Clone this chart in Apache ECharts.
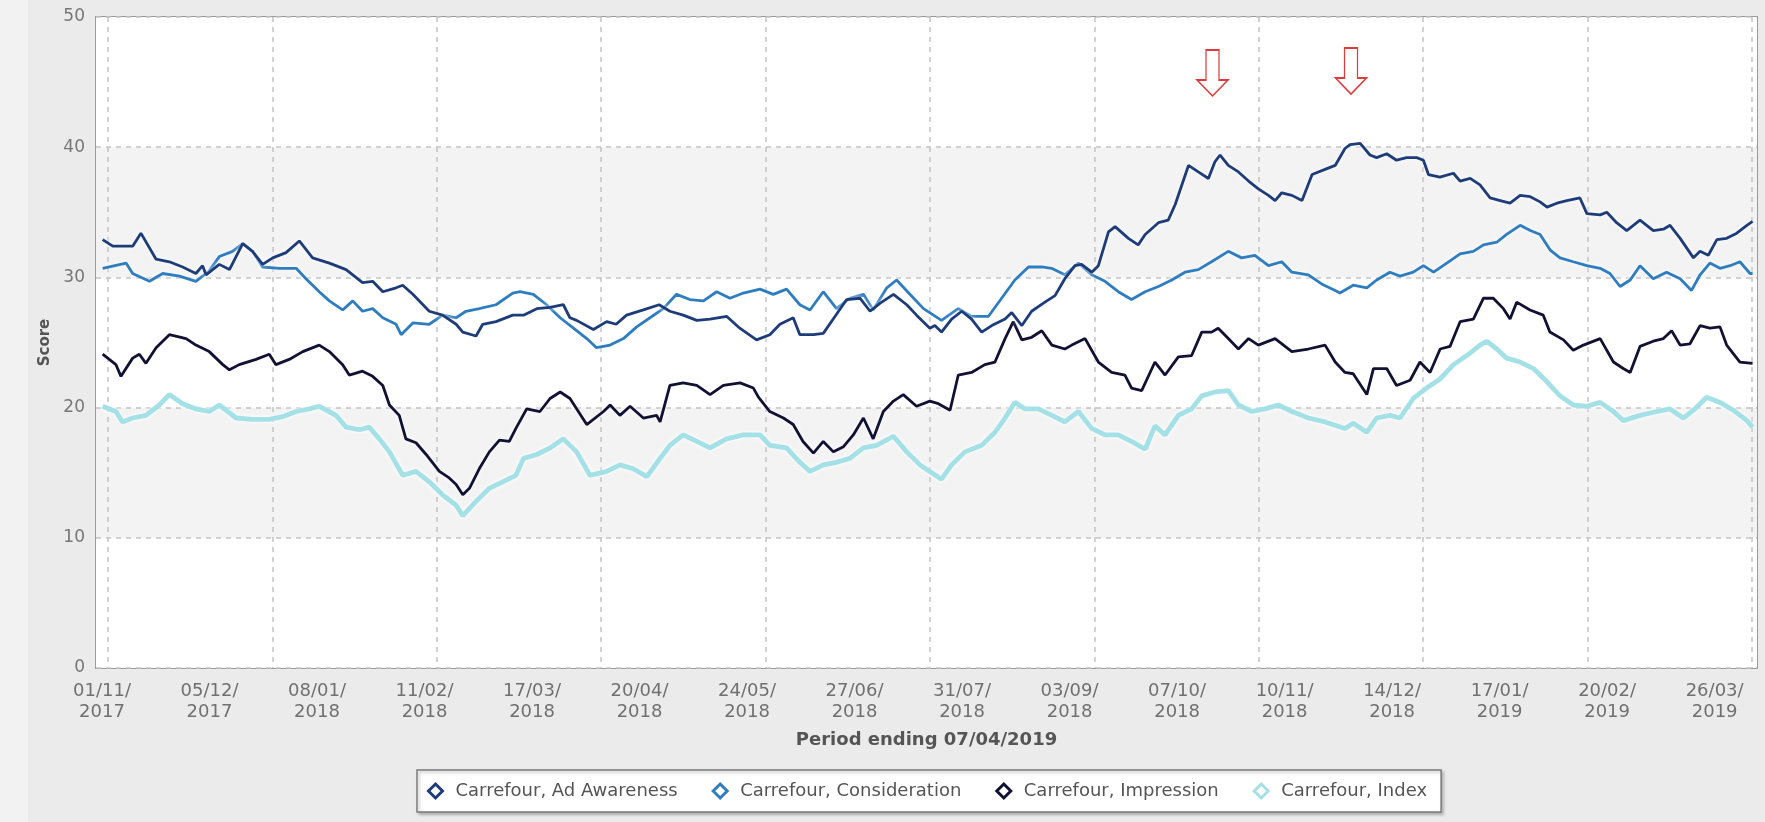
<!DOCTYPE html>
<html><head><meta charset="utf-8">
<script src="https://cdn.jsdelivr.net/npm/echarts@6/dist/echarts.min.js"></script>
<style>html,body{margin:0;padding:0;background:#ebebeb;} #c{width:1765px;height:822px;}</style>
</head><body><div id="c"></div><script>
// x values are day offsets from 01/11/2017 (period ending 07/04/2019 = day 522)
const labelDays = [0,34,68,102,136,170,204,238,272,306,340,374,408,442,476,510];
const seriesNames = ['Carrefour, Ad Awareness','Carrefour, Consideration','Carrefour, Impression','Carrefour, Index'];

const adDays = [0.2,3.4,9.7,12.3,17.1,21.3,25.5,29.7,31.8,32.9,37.1,40.3,44.5,47.6,50.8,54.0,58.2,62.4,66.6,71.9,77.2,82.4,85.6,88.8,93.0,95.1,98.3,103.5,107.7,112.0,114.1,118.3,120.4,124.6,129.9,
  133.3,137.5,141.7,145.9,148.0,150.1,155.4,159.6,162.6,165.9,171.2,176.2,179.6,183.8,188.1,192.3,197.6,201.7,207.0,211.2,214.4,218.6,220.7,225.0,228.1,231.8,235.5,239.7,242.9,246.0,250.3,254.5,257.6,261.8,
  263.4,265.5,268.7,271.9,275.0,278.2,281.4,285.6,287.7,290.9,294.0,298.2,301.4,304.5,307.7,309.8,313.0,315.1,318.3,320.4,324.6,327.7,329.9,334.1,337.2,339.4,341.5,343.6,346.7,349.9,352.0,353.6,356.2,359.4,362.6,365.7,368.9,371.0,373.1,376.3,379.5,382.7,386.8,390.0,393.1,
  394.7,397.9,401.0,403.1,406.3,409.4,412.6,415.8,417.9,419.5,423.1,427.4,429.5,432.7,435.8,439.0,442.2,445.3,448.5,451.7,454.8,457.0,460.1,463.3,467.4,469.6,473.8,475.9,479.0,482.2,486.4,490.6,493.8,495.9,499.1,503.3,505.4,508.0,510.7,513.8,517.0,520.2,522];
const adAwareness = [32.9,32.4,32.4,33.4,31.4,31.2,30.8,30.3,30.9,30.2,31.0,30.6,32.6,32.0,31.0,31.5,31.9,32.8,31.5,31.1,30.6,29.6,29.7,28.9,29.2,29.4,28.7,27.4,27.1,26.4,25.8,25.5,26.4,26.6,27.1,
  27.1,27.6,27.7,27.9,26.9,26.7,26.0,26.6,26.4,27.1,27.5,27.9,27.4,27.1,26.7,26.8,27.0,26.1,25.2,25.6,26.4,26.9,25.6,25.6,25.7,27.0,28.3,28.4,27.4,28.0,28.7,27.9,27.1,26.1,
  26.3,25.8,26.8,27.4,26.8,25.8,26.3,26.8,27.3,26.3,27.4,28.1,28.6,29.9,30.9,31.0,30.4,30.9,33.5,33.9,33.0,32.5,33.3,34.2,34.4,35.6,37.1,38.6,38.1,37.6,38.9,39.4,38.6,38.1,37.4,36.8,36.3,35.9,36.5,36.3,35.9,37.9,38.3,38.6,39.9,
  40.2,40.3,39.4,39.2,39.5,39.0,39.2,39.2,39.0,37.9,37.7,38.0,37.4,37.6,37.1,36.1,35.9,35.7,36.3,36.2,35.8,35.4,35.7,35.9,36.1,34.9,34.8,35.0,34.2,33.6,34.4,33.6,33.7,34.0,33.0,31.5,32.0,31.7,32.9,33.0,33.4,34.0,34.3];

const consDays = [0.2,7.6,9.7,15.0,19.2,24.5,29.7,33.9,37.1,41.3,44.5,47.6,50.8,56.1,61.4,64.5,68.7,71.9,76.1,79.3,82.4,85.6,88.8,93.0,94.6,98.3,103.5,107.7,112.0,115.1,119.3,124.6,129.9,
  132.2,136.4,140.6,144.9,149.1,153.3,156.4,160.7,164.9,169.1,173.3,177.5,181.7,185.9,190.2,194.4,198.6,202.8,208.1,212.3,216.5,220.7,223.9,228.1,232.3,236.5,240.8,243.9,248.2,251.3,255.5,259.8,
  265.5,270.8,275.0,280.3,284.5,288.7,293.0,297.2,300.3,304.5,308.8,313.0,317.2,321.4,325.6,329.9,334.1,338.3,342.5,346.7,350.9,356.2,360.4,364.6,368.9,373.1,376.3,381.5,385.7,390.0,
  391.5,395.7,400.0,403.1,407.3,410.5,414.7,417.9,421.1,425.3,429.5,433.7,436.9,441.1,444.2,448.5,451.7,454.8,458.0,461.1,465.3,469.6,473.8,476.9,480.1,483.3,486.4,490.6,494.8,499.1,502.7,505.4,508.5,511.7,514.9,518.0,521.2,522];
const consideration = [30.7,31.1,30.3,29.7,30.3,30.1,29.7,30.5,31.6,32.0,32.6,32.0,30.8,30.7,30.7,29.9,28.9,28.2,27.5,28.2,27.4,27.6,26.9,26.4,25.6,26.5,26.4,27.1,26.9,27.4,27.6,27.9,28.8,
  28.9,28.7,27.9,26.9,26.1,25.3,24.6,24.8,25.3,26.2,26.9,27.6,28.7,28.3,28.2,28.9,28.4,28.8,29.1,28.7,29.1,27.9,27.5,28.9,27.6,28.4,28.7,27.5,29.2,29.8,28.7,27.6,
  26.7,27.6,27.0,27.0,28.4,29.8,30.8,30.8,30.7,30.2,31.1,30.2,29.7,28.9,28.3,28.9,29.3,29.8,30.4,30.6,31.2,32.0,31.5,31.7,30.9,31.2,30.4,30.2,29.5,29.0,
  28.8,29.4,29.2,29.8,30.4,30.1,30.4,30.9,30.4,31.1,31.8,32.0,32.5,32.7,33.3,34.0,33.6,33.3,32.1,31.5,31.2,30.9,30.7,30.3,29.3,29.8,30.9,29.9,30.4,29.9,29.0,30.2,31.1,30.7,30.9,31.2,30.3,30.3];

const impDays = [0.2,4.4,6.0,9.7,11.8,13.9,17.1,21.3,26.6,29.7,33.9,38.2,40.3,43.4,48.7,52.9,55.0,59.2,63.5,68.7,71.9,76.1,78.2,82.4,85.6,88.8,90.9,94.0,96.1,99.3,102.5,106.7,109.8,112.0,114.1,116.2,119.3,122.5,125.7,128.8,130.9,
  134.3,138.5,141.7,144.9,148.0,153.3,158.6,160.7,163.8,167.0,171.2,175.4,176.5,179.6,183.8,188.1,192.3,196.5,201.8,206.0,207.6,211.2,215.5,218.6,221.7,225.0,228.1,231.3,234.5,237.6,240.8,243.9,247.1,250.3,253.4,257.6,261.8,
  264.5,268.2,270.8,275.0,279.2,282.4,285.6,288.2,290.9,294.0,297.2,300.4,304.5,306.7,310.9,315.1,319.3,323.5,325.6,328.8,333.0,336.2,340.4,344.6,347.8,350.9,353.0,356.2,359.4,362.6,365.7,371.0,376.3,381.5,386.8,390.0,393.1,
  395.7,400.0,402.1,406.3,409.4,413.7,416.8,420.0,423.2,426.3,429.5,433.7,436.9,440.0,443.2,445.3,447.4,451.6,455.8,457.9,462.2,465.3,468.5,473.8,478.0,481.1,483.3,486.4,490.6,493.8,496.4,499.1,502.2,505.4,508.5,511.7,513.8,518.0,522];
const impression = [24.1,23.3,22.4,23.8,24.1,23.4,24.6,25.6,25.3,24.8,24.3,23.3,22.9,23.3,23.7,24.1,23.3,23.7,24.3,24.8,24.3,23.3,22.5,22.8,22.4,21.7,20.2,19.4,17.6,17.3,16.4,15.1,14.6,14.1,13.3,13.8,15.3,16.6,17.5,17.4,18.4,
  19.9,19.7,20.7,21.2,20.7,18.7,19.7,20.2,19.4,20.1,19.2,19.4,18.9,21.7,21.9,21.7,21.0,21.7,21.9,21.5,20.8,19.7,19.2,18.7,17.4,16.5,17.4,16.6,17.0,17.9,19.2,17.6,19.7,20.5,21.0,20.1,20.5,
  20.3,19.8,22.5,22.7,23.3,23.5,25.3,26.6,25.2,25.4,25.9,24.8,24.5,24.8,25.3,23.5,22.7,22.5,21.5,21.3,23.5,22.5,23.9,24.0,25.8,25.8,26.1,25.3,24.5,25.3,24.8,25.3,24.3,24.5,24.8,23.5,22.7,
  22.6,21.0,23.0,23.0,21.7,22.1,23.5,22.7,24.5,24.7,26.6,26.8,28.4,28.4,27.6,26.8,28.1,27.5,27.1,25.8,25.2,24.4,24.8,25.3,23.5,23.0,22.7,24.7,25.1,25.3,25.9,24.8,24.9,26.3,26.1,26.2,24.8,23.5,23.4];

const idxDays = [0.2,4.4,6.5,9.7,13.9,18.1,21.3,25.5,29.7,33.9,37.1,42.4,47.6,52.9,57.1,61.4,65.6,68.7,74.0,77.2,81.4,84.5,87.7,90.9,95.1,99.3,103.5,107.7,112.0,114.1,118.3,122.5,126.7,130.9,
  133.3,137.5,141.7,145.9,150.1,154.3,159.6,163.8,168.0,172.3,176.5,179.6,183.8,188.1,192.3,197.5,202.8,208.1,211.2,216.5,220.7,223.9,228.1,232.3,236.5,240.8,245.0,250.3,254.5,258.7,261.8,
  265.5,268.7,272.9,278.2,282.4,285.6,288.7,291.9,296.1,300.4,304.5,308.8,313.0,317.2,321.4,325.6,329.9,333.0,336.2,340.4,344.6,347.8,352.0,356.2,359.4,363.6,367.8,372.0,376.3,381.5,386.8,393.1,
  395.7,400.0,403.1,407.3,410.5,414.7,418.9,423.2,427.4,431.6,435.8,437.9,441.1,444.2,448.5,452.7,456.9,461.1,465.3,469.6,473.8,478.0,481.1,486.4,491.7,495.9,500.1,503.3,507.5,511.7,515.9,520.2,522];
const indexScore = [20.1,19.7,18.9,19.2,19.4,20.2,21.0,20.3,19.9,19.7,20.2,19.2,19.1,19.1,19.3,19.7,19.9,20.1,19.4,18.5,18.3,18.5,17.6,16.6,14.8,15.1,14.3,13.3,12.5,11.7,12.8,13.8,14.3,14.8,
  16.1,16.4,16.9,17.6,16.6,14.8,15.1,15.6,15.3,14.7,16.1,17.1,17.9,17.4,16.9,17.6,17.9,17.9,17.1,16.9,15.8,15.1,15.6,15.8,16.1,16.9,17.1,17.8,16.6,15.6,15.1,
  14.5,15.6,16.6,17.1,18.1,19.2,20.4,19.9,19.9,19.4,18.9,19.7,18.4,17.9,17.9,17.4,16.8,18.6,17.9,19.4,19.9,20.9,21.2,21.3,20.2,19.7,19.9,20.2,19.7,19.2,18.9,18.4,
  18.8,18.1,19.2,19.4,19.2,20.7,21.5,22.2,23.3,24.0,24.8,25.1,24.5,23.8,23.5,23.0,22.0,20.9,20.2,20.1,20.4,19.7,19.0,19.4,19.7,19.9,19.2,19.8,20.8,20.4,19.8,19.0,18.5];

const arrowDays = [351.2, 395];
const arrowLevels = [45.7, 45.85];

const colors = ['#1d3c79', '#2e7dc0', '#111134', '#a3e1e7'];
const widths = [2.8, 2.8, 2.8, 4.8];
const daySets = [adDays, consDays, impDays, idxDays];
const valueSets = [adAwareness, consideration, impression, indexScore];
const FONT = 'DejaVu Sans';

function fmt(v) {
  const d = new Date(Date.UTC(2017, 10, 1) + Math.round(v) * 86400000);
  const dd = String(d.getUTCDate()).padStart(2, '0');
  const mm = String(d.getUTCMonth() + 1).padStart(2, '0');
  return dd + '/' + mm + '/\n' + d.getUTCFullYear();
}

const chart = echarts.init(document.getElementById('c'), null, {renderer: 'canvas'});
const series = valueSets.map((vals, i) => {
  const s = {
    name: seriesNames[i], type: 'line', xAxisIndex: 0, yAxisIndex: 0,
    data: daySets[i].map((d, j) => [d, vals[j]]),
    showSymbol: false, symbol: 'none', smooth: false,
    lineStyle: {color: colors[i], width: widths[i], shadowColor: 'rgba(255,255,255,0.95)', shadowBlur: 5},
    itemStyle: {color: colors[i]},
    z: 10 - i, animation: false
  };
  if (i === 0) {
    s.markPoint = {
      silent: true, animation: false,
      symbol: 'path://M9,0 L22,0 L22,30 L31,30 L15.5,46 L0,30 L9,30 Z',
      symbolSize: [31, 46],
      itemStyle: {color: '#ffffff', borderColor: '#e03a3a', borderWidth: 1.5},
      label: {show: false},
      data: arrowDays.map((d, k) => ({coord: [d, arrowLevels[k]]}))
    };
  }
  return s;
});

chart.setOption({
  animation: false,
  backgroundColor: 'transparent',
  graphic: [{type: 'rect', shape: {x: 0, y: 0, width: 28, height: 822}, style: {fill: '#f2f2f2'}, z: -10}],
  grid: [
    {left: 96, right: 8, top: 17, bottom: 154, show: true, borderColor: '#9a9a9a', borderWidth: 2, backgroundColor: '#ffffff'},
    {left: 108, width: 1644, top: 17, bottom: 154, show: false}
  ],
  xAxis: [
    {type: 'value', gridIndex: 0, min: -1.9, max: 523.4,
     axisLine: {show: false}, axisTick: {show: false}, splitLine: {show: false},
     axisLabel: {customValues: labelDays, formatter: fmt, color: '#707070', fontFamily: FONT, fontSize: 18, lineHeight: 21, margin: 13},
     name: 'Period ending 07/04/2019', nameLocation: 'middle', nameGap: 63,
     nameTextStyle: {color: '#555', fontFamily: FONT, fontSize: 18, fontWeight: 'bold'}},
    {type: 'value', gridIndex: 1, min: 0, max: 10, interval: 1, z: 1,
     axisLine: {show: false}, axisTick: {show: false}, axisLabel: {show: false},
     splitLine: {show: true, lineStyle: {color: '#c4c4c4', width: 1.5, type: [5, 5]}}}
  ],
  yAxis: [
    {type: 'value', gridIndex: 0, min: 0, max: 50, interval: 10,
     axisLine: {show: false}, axisTick: {show: false},
     axisLabel: {color: '#777', fontFamily: FONT, fontSize: 17, margin: 11},
     splitLine: {show: true, lineStyle: {color: '#c4c4c4', width: 1.5, type: [5, 5]}},
     splitArea: {show: true, areaStyle: {color: ['#ffffff', '#f3f3f3']}},
     name: 'Score', nameLocation: 'middle', nameGap: 40,
     nameTextStyle: {color: '#555', fontFamily: FONT, fontSize: 15, fontWeight: 'bold'}},
    {type: 'value', gridIndex: 1, min: 0, max: 1, show: false}
  ],
  legend: {
    left: 417, top: 770, orient: 'horizontal',
    backgroundColor: '#ffffff', borderColor: '#7a7a7a', borderWidth: 1.5,
    shadowColor: 'rgba(0,0,0,0.25)', shadowBlur: 3, shadowOffsetX: 2, shadowOffsetY: 2,
    padding: [12, 14, 12, 10], itemGap: 34, itemWidth: 14, itemHeight: 14,
    textStyle: {color: '#555', fontFamily: FONT, fontSize: 18, padding: [0, 0, 0, 8]},
    data: seriesNames.map((n, i) => ({name: n, icon: 'diamond',
      itemStyle: {color: '#ffffff', borderColor: colors[i], borderWidth: 3}}))
  },
  series: series
});
</script></body></html>
